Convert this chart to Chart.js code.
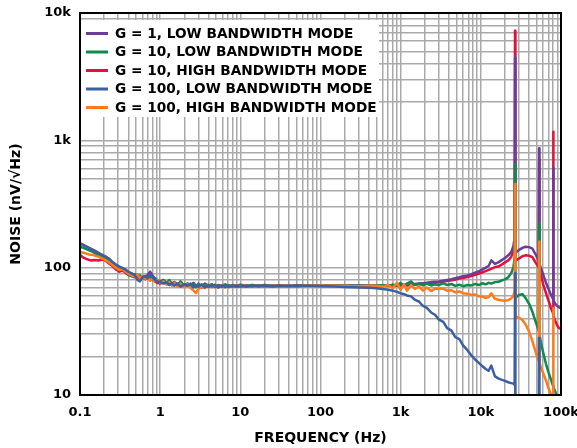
<!DOCTYPE html>
<html>
<head>
<meta charset="utf-8">
<title>Noise spectral density</title>
<script src="https://cdn.jsdelivr.net/npm/chart.js"></script>
<style>
  html, body { margin: 0; padding: 0; background: #fff; }
  #wrap { width: 577px; height: 448px; }
</style>
</head>
<body>
<div id="wrap"><canvas id="noiseChart" width="577" height="448"></canvas></div>
<script>
/* frequency points (Hz) shared by every trace up to the 26.7 kHz spur */
const FREQ = [
  0.1, 0.11, 0.12, 0.13, 0.14, 0.15, 0.17, 0.19, 0.21, 0.23, 0.25, 0.28, 0.31, 0.34, 0.37, 0.4,
  0.44, 0.48, 0.52, 0.56, 0.6, 0.65, 0.7, 0.75, 0.8, 0.86, 0.92, 1.0,
  1.1, 1.2, 1.3, 1.4, 1.5, 1.65, 1.8, 2.0, 2.2, 2.4, 2.6, 2.8, 3.0,
  3.3, 3.6, 4.0, 4.4, 4.8, 5.3, 5.8, 6.5, 7.2, 8, 9, 10,
  12, 14, 17, 20, 25, 30, 40, 50, 70, 100, 150, 200, 300, 400, 500,
  600, 700, 800, 900, 1000,
  1100, 1200, 1350, 1500, 1700, 1900, 2100, 2400, 2700, 3000,
  3400, 3800, 4300, 4800, 5400, 6000, 6800, 7600, 8500, 9500,
  10500, 11500, 12500, 13500, 15000, 16500, 18000, 20000, 22000, 24000,
  25500, 26400
];

/* noise, nV/rtHz */
const G1_LBW = [
  155, 150, 147, 143, 140, 137, 131, 125, 121, 116, 111, 104, 100, 98, 95, 92,
  90, 86, 88, 84, 86, 83, 88, 93, 87, 82, 80, 78,
  80, 76, 78, 75, 77, 74, 76, 73, 75, 72, 76, 72, 74,
  71, 75, 72, 74, 71, 73, 72, 74, 71.5, 73, 72, 73.5,
  72, 73, 72, 73, 72, 72.5, 72, 72.5, 72, 72.5, 72, 72.5, 72, 72.5, 72.5,
  72.5, 72, 73, 72.5, 73,
  73.5, 73, 74, 74.5, 75, 75.5, 76, 77, 77.5, 78,
  79, 80, 81, 82.5, 84, 85.5, 87, 89, 91.5, 94,
  97, 100, 103, 114, 107, 110, 114, 119, 125, 133,
  148, 172
];
const G10_LBW = [
  146, 143, 140, 137, 134, 131, 126, 122, 117, 113, 109, 103, 101, 99, 94, 88,
  86, 89, 85, 87, 83, 86, 82, 84, 80, 83, 79, 77,
  79, 75, 80, 74, 76, 73, 78, 72, 75, 71, 74, 70, 75,
  71, 73, 70.5, 74, 71, 72.5, 70.5, 73, 71, 72.5, 71, 72.5,
  71.5, 72.5, 71.5, 72.5, 71.5, 72, 71.5, 72, 72, 72, 72, 72, 72, 72, 72,
  72.5, 72, 73.5, 72.5, 76,
  72, 75, 78, 73, 74.5, 72.5, 75, 72.5, 74, 73,
  75.5, 73, 74.5, 72, 73.5, 71.5, 73, 72.5, 74.5, 73,
  75.5, 74, 76, 75, 77, 77.5, 79, 81, 84, 91,
  101, 120
];
const G10_HBW = [
  126, 120, 117, 115, 114, 115, 114, 116, 113, 108, 104, 97, 93, 95, 91, 88,
  86, 84, 86, 82, 84, 81, 85, 80, 83, 78, 76, 75,
  77, 74, 76, 73, 75, 72, 75, 71, 74, 70, 73, 71, 72.5,
  70, 73, 71, 72, 70.5, 72.5, 71, 72, 70.5, 72, 71, 72,
  71, 72, 71.5, 72, 71.5, 72, 72, 72, 72, 72, 72, 72, 72, 72, 72,
  72, 72.5, 72, 72.5, 72.5,
  73, 72.5, 73.5, 74, 74.5, 75, 75.5, 76, 76.5, 77,
  78, 78.5, 79.5, 80.5, 82, 83, 84.5, 86, 88, 90,
  92, 94, 96, 98, 101, 102, 105, 110, 114, 122,
  136, 158
];
const G100_LBW = [
  155, 151, 146, 142, 138, 136, 130, 126, 122, 118, 112, 106, 102, 99, 97, 93,
  90, 88, 80, 78, 84, 86, 83, 88, 84, 80, 78, 77,
  75, 77, 73, 76, 72, 75, 71, 74, 72, 75, 70, 73, 71,
  74, 70, 73, 71, 73.5, 70, 72.5, 70.5, 72.5, 71, 72.5, 71,
  72.5, 71.5, 72.5, 71.5, 72, 71.5, 72, 71.5, 72, 71.5, 71, 70.5, 70, 69.5, 69,
  68, 67, 66, 64.5, 63,
  62, 60.5, 59.5, 56, 54, 50, 48.5, 44.5, 42.5, 39,
  37.5, 33.5, 32, 28.5, 27.5, 24.5, 22.5, 20.5, 19, 17.8,
  16.8, 16, 15.5, 17, 14, 13.5, 13.2, 12.9, 12.6, 12.4,
  12.3, 12
];
const G100_HBW = [
  133, 131, 129, 127, 126, 125, 122, 118, 114, 110, 106, 100, 96, 97, 93, 90,
  87, 85, 88, 83, 86, 82, 84, 79, 82, 78, 80, 76,
  78, 74, 77, 72, 76, 71, 75, 70, 74, 69, 66, 63, 68,
  72, 69, 74, 70, 73, 69.5, 73, 70, 72.5, 71, 73, 71,
  73, 71, 72.5, 71.5, 72.5, 71.5, 72.5, 71.5, 72, 72, 72, 72, 71.5, 72, 72,
  71, 73, 69, 76, 67,
  74, 66, 73, 68, 71, 66, 70, 65.5, 68.5, 68,
  68.5, 66, 66.5, 64, 65, 63, 62.5, 61, 61.5, 59.5,
  59, 58, 58.5, 63, 57, 56, 55.5, 55, 55.5, 57.5,
  60, 66
];

/* spurs at 26.7k / 53.3k / 80.1k and the roll-off above them */
const TAIL_FREQ = [26700, 27000, 28000, 30000, 33000, 36000, 40000, 44000, 48000, 51000, 52700, 53300, 53900,
  56000, 60000, 65000, 70000, 75000, 79500, 80100, 80700, 85000, 90000, 95000, 100000];
const G1_LBW_TAIL = [4450, 140, 133, 138, 143, 146, 145, 141, 128, 118, 112, 866, 106,
  100, 88, 76, 68, 61, 57, 610, 55, 52, 50, 48.7, 48];
const G10_LBW_TAIL = [652, 60, 59, 61, 62, 58, 52, 45, 38, 34, 32, 224, 30,
  26, 21.5, 17.5, 15, 13.2, 11.8, 11.6, 11.5, 10.6, 9.5, 8, 7];
const G10_HBW_TAIL = [7260, 118, 115, 118, 123, 125, 124, 121, 110, 104, 100, 700, 96,
  88, 74, 63, 55, 48, 44, 1170, 42, 38, 35, 33.5, 33];
const G100_LBW_TAIL = [91, 5, 4, 4, 4, 4, 4, 4, 4, 4, 4, 28, 4,
  4, 4, 4, 4, 4, 4, 4, 4, 4, 4, 4, 4];
const G100_HBW_TAIL = [454, 42, 41, 40.5, 38.8, 36, 31.5, 26.5, 22, 19.5, 18.6, 160, 18,
  16.5, 14.8, 13, 11.3, 10.1, 8.5, 48, 7, 5, 5, 5, 5];

const SERIES_LABELS = [
  'G = 1, LOW BANDWIDTH MODE',
  'G = 10, LOW BANDWIDTH MODE',
  'G = 10, HIGH BANDWIDTH MODE',
  'G = 100, LOW BANDWIDTH MODE',
  'G = 100, HIGH BANDWIDTH MODE'
];

const X_DECADES = [0.1, 1, 10, 100, 1000, 10000, 100000];
const X_TICK_LABELS = ['0.1', '1', '10', '100', '1k', '10k', '100k'];
const Y_DECADES = [10, 100, 1000, 10000];
const Y_TICK_LABELS = ['10', '100', '1k', '10k'];

/* ---- build ---- */
const ALL_FREQ = FREQ.concat(TAIL_FREQ);
function toPoints(body, tail) {
  return body.concat(tail).map((v, i) => ({ x: ALL_FREQ[i], y: v }));
}
function gridValues(decades) {
  const out = [];
  for (let i = 0; i < decades.length - 1; i++) {
    for (let m = 1; m < 10; m++) out.push(decades[i] * m);
  }
  out.push(decades[decades.length - 1]);
  return out;
}
function decadeLabel(v, decades, labels) {
  const i = decades.findIndex(d => Math.abs(v / d - 1) < 1e-9);
  return i < 0 ? '' : labels[i];
}

const FONT = '"DejaVu Sans", sans-serif';
const GRID = '#a9a9a9';

// legend order first, draw order via `order` (0 = on top)
const traces = [
  { data: toPoints(G1_LBW, G1_LBW_TAIL), color: '#6a3d9b', order: 3 },
  { data: toPoints(G10_LBW, G10_LBW_TAIL), color: '#0f8a4c', order: 2 },
  { data: toPoints(G10_HBW, G10_HBW_TAIL), color: '#e2103c', order: 4 },
  { data: toPoints(G100_LBW, G100_LBW_TAIL), color: '#3b5fa0', order: 0 },
  { data: toPoints(G100_HBW, G100_HBW_TAIL), color: '#ff7b1c', order: 1 }
];

/* white legend panel (over the grid), legend keys, black frame */
const framePlugin = {
  id: 'framePlugin',
  beforeDatasetsDraw(chart) {
    const { ctx, chartArea: a } = chart;
    ctx.save();
    ctx.fillStyle = '#ffffff';
    ctx.fillRect(a.left + 1, a.top + 7, 298, 97);
    ctx.restore();
  },
  afterDraw(chart) {
    const { ctx, chartArea: a } = chart;
    ctx.save();
    ctx.font = 'bold 13.7px ' + FONT;
    ctx.textBaseline = 'middle';
    chart.data.datasets.forEach((ds, i) => {
      const y = a.top + 20.5 + i * 18.5;
      ctx.strokeStyle = ds.borderColor;
      ctx.lineWidth = 3;
      ctx.beginPath();
      ctx.moveTo(a.left + 6, y);
      ctx.lineTo(a.left + 28, y);
      ctx.stroke();
      ctx.fillStyle = '#000';
      ctx.fillText(ds.label, a.left + 35, y + 0.5);
    });
    ctx.strokeStyle = '#000';
    ctx.lineWidth = 2;
    ctx.strokeRect(a.left, a.top, a.right - a.left, a.bottom - a.top);
    ctx.restore();
  }
};

new Chart(document.getElementById('noiseChart'), {
  type: 'line',
  data: {
    datasets: traces.map((t, i) => ({
      label: SERIES_LABELS[i],
      data: t.data,
      borderColor: t.color,
      backgroundColor: t.color,
      borderWidth: 2.5,
      borderJoinStyle: 'round',
      pointRadius: 0,
      tension: 0,
      order: t.order
    }))
  },
  options: {
    responsive: false,
    animation: false,
    layout: { padding: { top: 13, left: 0, right: 0, bottom: 0 } },
    plugins: { legend: { display: false }, tooltip: { enabled: false } },
    scales: {
      x: {
        type: 'logarithmic',
        min: 0.1,
        max: 100000,
        afterBuildTicks: s => { s.ticks = gridValues(X_DECADES).map(v => ({ value: v })); },
        afterFit: s => { s.height = 53; s.paddingLeft = 0; s.paddingRight = 16; },
        grid: { color: GRID, lineWidth: 1.5, drawTicks: false },
        border: { display: false },
        ticks: {
          autoSkip: false, maxRotation: 0, padding: 10, color: '#000',
          font: { family: FONT, size: 13, weight: 'bold' },
          callback: v => decadeLabel(v, X_DECADES, X_TICK_LABELS)
        },
        title: {
          display: true, text: 'FREQUENCY (Hz)', color: '#000',
          font: { family: FONT, size: 14, weight: 'bold' },
          padding: { top: 0, bottom: 1 }
        }
      },
      y: {
        type: 'logarithmic',
        min: 10,
        max: 10000,
        afterBuildTicks: s => { s.ticks = gridValues(Y_DECADES).map(v => ({ value: v })); },
        afterFit: s => { s.width = 80; s.paddingTop = 0; s.paddingBottom = 0; },
        grid: { color: GRID, lineWidth: 1.5, drawTicks: false },
        border: { display: false },
        ticks: {
          autoSkip: false, padding: 9, color: '#000',
          font: { family: FONT, size: 13, weight: 'bold' },
          callback: v => decadeLabel(v, Y_DECADES, Y_TICK_LABELS)
        },
        title: {
          display: true, text: 'NOISE (nV/√Hz)', color: '#000',
          font: { family: FONT, size: 14, weight: 'bold' },
          padding: { top: 8, bottom: 0 }
        }
      }
    }
  },
  plugins: [framePlugin]
});
</script>
</body>
</html>
